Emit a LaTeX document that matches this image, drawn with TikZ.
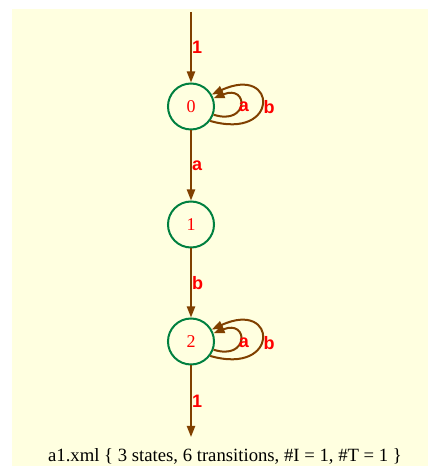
\documentclass[tikz,border=0pt]{standalone}
\usepackage{fontspec}
\setmainfont{Liberation Serif}
\newfontfamily\lblfont{Liberation Sans}
\usetikzlibrary{arrows.meta}
\definecolor{bgyellow}{RGB}{255,255,224}
\definecolor{stategreen}{RGB}{0,128,64}
\definecolor{edgebrown}{RGB}{128,64,0}
\tikzset{
  statenode/.style={circle, draw=stategreen, line width=2pt, minimum size=46pt, inner sep=0pt, text=red, font=\fontsize{18}{20}\selectfont},
  edge/.style={draw=edgebrown, line width=2pt, -{Triangle[length=11pt,width=8pt]}},
  elabel/.style={text=red, font=\lblfont\bfseries\fontsize{18}{20}\selectfont, inner sep=0pt},
}
\begin{document}
\begin{tikzpicture}[x=1pt,y=1pt]
\useasboundingbox (0,0) rectangle (428,466);
\fill[bgyellow] (12,0) rectangle (428,457);
\node[statenode] (s0) at (191,359.5) {0};
\node[statenode] (s1) at (191,241.5) {1};
\node[statenode] (s2) at (191,124.5) {2};
\coordinate (init) at (191,454);
\coordinate (fin) at (191,29);
\draw[edge] (init) -- (s0) node[elabel, pos=0.5, right=0pt] (l1) {1};
\draw[edge] (s0) -- (s1) node[elabel, pos=0.5, right=0pt] (la) {a};
\draw[edge] (s1) -- (s2) node[elabel, pos=0.5, right=0pt] (lb) {b};
\draw[edge] (s2) -- (fin) node[elabel, pos=0.5, right=0pt] (l2) {1};
% loops on 0
\draw[edge] (s0.-20) .. controls (249,340) and (249,382) .. (s0.20);
\draw[edge] (s0.-37) .. controls (280,325) and (278,402) .. (s0.30);
\node[elabel] (s0a) at (244,359) {a};
\node[elabel] (s0b) at (269,359) {b};
% loops on 2
\draw[edge] (s2.-20) .. controls (249,105) and (249,147) .. (s2.20);
\draw[edge] (s2.-37) .. controls (280,90) and (278,167) .. (s2.30);
\node[elabel] (s2a) at (244,123) {a};
\node[elabel] (s2b) at (269,123) {b};
\node[font=\fontsize{18.7}{20}\selectfont, inner sep=0pt] (cap) at (225,10) {a1.xml \{ 3 states, 6 transitions, \#I = 1, \#T = 1 \}};
\end{tikzpicture}
\end{document}
